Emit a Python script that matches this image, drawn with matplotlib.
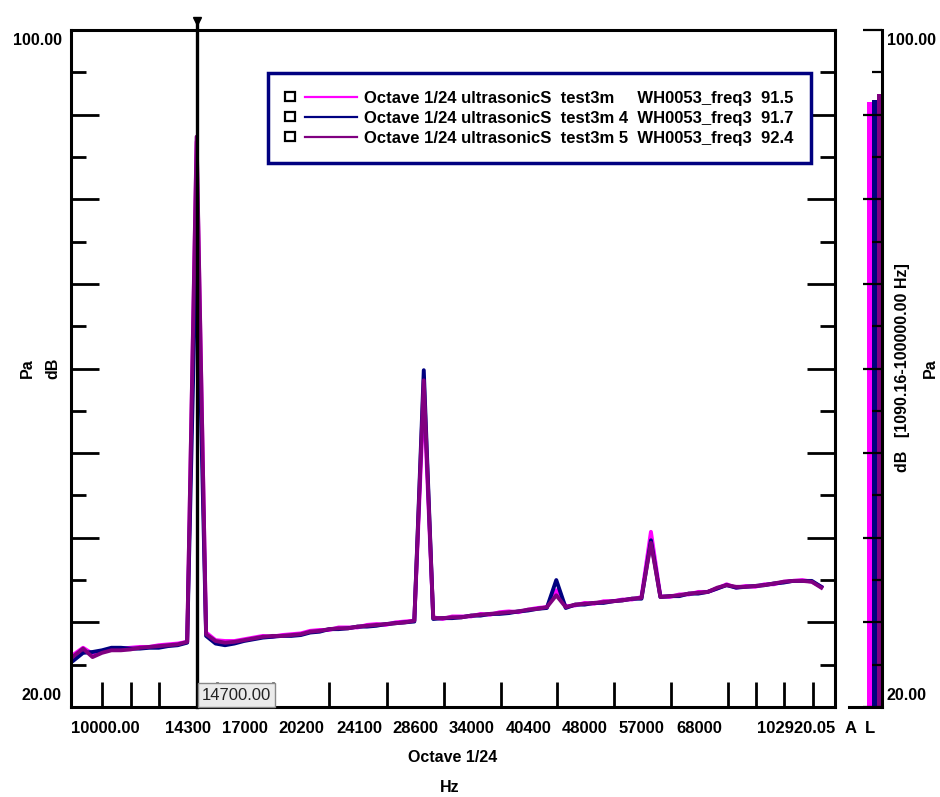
import numpy as np
import matplotlib.pyplot as plt
from matplotlib.ticker import FixedLocator, FixedFormatter, NullFormatter, MultipleLocator
from matplotlib.legend_handler import HandlerBase
from matplotlib.lines import Line2D
from matplotlib.patches import Rectangle

plt.rcParams['font.family'] = ['Liberation Sans', 'DejaVu Sans']
plt.rcParams['font.weight'] = 'bold'
plt.rcParams['font.size'] = 11.5

# 1/24 octave bands, n = 80 .. 159
band_index = np.arange(80, 160)
band_hz = 1000 * 2 ** (band_index / 24)

# dB per band
level_test3m = [
    26.2, 27.0, 26.3, 26.5, 26.8, 26.9, 27.0, 27.1, 27.1, 27.3,
    27.4, 27.5, 27.7, 86.8, 28.8, 27.9, 27.8, 27.8, 28.0, 28.2,
    28.4, 28.3, 28.5, 28.6, 28.7, 29.0, 29.1, 29.1, 29.4, 29.4,
    29.4, 29.7, 29.8, 29.7, 30.0, 30.1, 30.2, 56.9, 30.6, 30.4,
    30.7, 30.7, 30.7, 31.0, 30.9, 31.2, 31.3, 31.2, 31.5, 31.7,
    31.8, 33.8, 31.9, 32.0, 32.3, 32.2, 32.5, 32.5, 32.7, 32.7,
    33.0, 40.7, 33.1, 33.0, 33.3, 33.3, 33.6, 33.6, 34.0, 34.5,
    34.1, 34.3, 34.2, 34.5, 34.5, 34.8, 34.9, 35.0, 34.8, 34.2]
level_test3m_4 = [
    25.5, 26.4, 26.5, 26.7, 27.0, 27.0, 26.9, 26.9, 27.0, 27.0,
    27.2, 27.3, 27.6, 77.3, 28.4, 27.5, 27.3, 27.5, 27.8, 28.0,
    28.2, 28.3, 28.4, 28.4, 28.5, 28.8, 28.9, 29.2, 29.2, 29.3,
    29.5, 29.5, 29.6, 29.8, 29.9, 30.0, 30.1, 59.8, 30.4, 30.5,
    30.5, 30.6, 30.8, 30.8, 31.0, 31.0, 31.1, 31.3, 31.4, 31.6,
    31.7, 35.0, 31.7, 32.1, 32.1, 32.3, 32.3, 32.5, 32.6, 32.8,
    32.8, 39.7, 33.0, 33.1, 33.1, 33.4, 33.4, 33.6, 34.0, 34.4,
    34.1, 34.2, 34.3, 34.4, 34.6, 34.7, 34.9, 34.9, 34.9, 34.2]
level_test3m_5 = [
    26.0, 26.9, 25.9, 26.4, 26.7, 26.7, 26.8, 27.0, 27.1, 27.2,
    27.3, 27.4, 27.7, 87.4, 28.6, 27.8, 27.6, 27.7, 27.9, 28.1,
    28.3, 28.4, 28.4, 28.5, 28.6, 28.9, 29.0, 29.2, 29.3, 29.3,
    29.5, 29.6, 29.7, 29.8, 29.9, 30.0, 30.2, 58.6, 30.5, 30.5,
    30.6, 30.6, 30.8, 30.9, 31.0, 31.1, 31.2, 31.3, 31.5, 31.6,
    31.8, 33.2, 31.8, 32.1, 32.2, 32.3, 32.4, 32.5, 32.6, 32.8,
    32.9, 39.4, 33.0, 33.1, 33.2, 33.4, 33.5, 33.6, 34.1, 34.4,
    34.2, 34.2, 34.3, 34.4, 34.6, 34.8, 34.9, 34.9, 34.8, 34.1]

series_names = [
    'Octave 1/24 ultrasonicS  test3m     WH0053_freq3  91.5',
    'Octave 1/24 ultrasonicS  test3m 4  WH0053_freq3  91.7',
    'Octave 1/24 ultrasonicS  test3m 5  WH0053_freq3  92.4',
]
series_colors = ['#ff00ff', '#000080', '#800080']
overall_db = [91.5, 91.7, 92.4]

tick_hz = [11000, 12000, 13100, 14300, 15600, 17000, 18500, 20200, 22000,
           24100, 26200, 28600, 31200, 34000, 37100, 40400, 44100, 48000,
           52400, 57000, 62400, 68000, 74200, 80900, 88200, 96200]
label_hz = [10000, 14300, 17000, 20200, 24100, 28600, 34000, 40400,
            48000, 57000, 68000, 102920.05]
label_text = ['10000.00', '14300', '17000', '20200', '24100', '28600',
              '34000', '40400', '48000', '57000', '68000', '102920.05']
cursor_hz = 14700


class CheckLineHandler(HandlerBase):
    '''legend entry: little check box followed by the line sample'''
    def create_artists(self, legend, orig_handle, xdescent, ydescent,
                       width, height, fontsize, trans):
        x0 = -xdescent
        yc = (height - ydescent) / 2
        box = Rectangle((x0, yc - 3.4), 6.8, 6.8, fill=False,
                        edgecolor='black', linewidth=1.6, transform=trans)
        line = Line2D([x0 + 14.4, x0 + width], [yc, yc],
                      color=orig_handle.get_color(), linewidth=1.6,
                      transform=trans)
        return [box, line]


fig = plt.figure(figsize=(9.4, 7.97), dpi=100)
ax = fig.add_axes([71 / 940, 90 / 797, 764 / 940, 677 / 797])

lines = []
for levels, color in zip([level_test3m, level_test3m_4, level_test3m_5], series_colors):
    ln, = ax.plot(band_hz, levels, color=color, lw=2.8)
    lines.append(ln)

ax.set_xscale('log')
ax.set_xlim(10000, 102920.05)
ax.set_ylim(20, 100)

ax.xaxis.set_major_locator(FixedLocator(label_hz))
ax.xaxis.set_major_formatter(FixedFormatter(label_text))
ax.xaxis.set_minor_locator(FixedLocator(tick_hz))
ax.xaxis.set_minor_formatter(NullFormatter())
ax.tick_params(axis='x', which='major', length=0, pad=10, labelsize=12)
ax.tick_params(axis='x', which='minor', direction='in', length=18, width=2)
xl = ax.get_xticklabels()
xl[0].set_ha('left')
xl[-1].set_ha('right')

ax.yaxis.set_major_locator(MultipleLocator(10))
ax.yaxis.set_minor_locator(MultipleLocator(5))
ax.tick_params(axis='y', which='both', direction='in', left=True, right=True,
               labelleft=False, width=2)
ax.tick_params(axis='y', which='major', length=20)
ax.tick_params(axis='y', which='minor', length=11)
for s in ax.spines.values():
    s.set_linewidth(2.2)

ax.text(-0.012, 0.995, '100.00', transform=ax.transAxes, ha='right', va='top')
ax.text(-0.012, 0.006, '20.00', transform=ax.transAxes, ha='right', va='bottom')

# cursor
ax.plot([cursor_hz, cursor_hz], [20, 101.0], color='black', lw=2.4,
        clip_on=False, zorder=5)
ax.plot([cursor_hz], [101.1], marker='v', color='black', markersize=6,
        clip_on=False, zorder=5)
ax.annotate('14700.00', xy=(cursor_hz, 20), xytext=(3.2, 3.2),
            textcoords='offset points', ha='left', va='bottom', fontsize=12,
            fontweight='normal', color='#222222', zorder=6,
            bbox=dict(boxstyle='square,pad=0.25', fc='#ebebeb', ec='#888888', lw=1))

leg = ax.legend(lines, series_names, loc='upper left',
                bbox_to_anchor=((268 - 71) / 764, (707 - 73) / 677),
                borderaxespad=0, handler_map={Line2D: CheckLineHandler()},
                handlelength=4.3, handletextpad=0.42, borderpad=1.05,
                labelspacing=0.3, fancybox=False, framealpha=1,
                edgecolor='#000080', prop={'weight': 'bold', 'size': 12})
leg.get_frame().set_linewidth(2.5)

fig.text(27 / 940, 1 - 368 / 797, 'Pa', rotation=90, ha='center', va='center')
fig.text(53 / 940, 1 - 368 / 797, 'dB', rotation=90, ha='center', va='center')
fig.text(453 / 940, 1 - 757 / 797, 'Octave 1/24', ha='center', va='center')
fig.text(450 / 940, 1 - 787 / 797, 'Hz', ha='center', va='center')

# overall level bars
ax2 = fig.add_axes([849 / 940, 90 / 797, 33 / 940, 677 / 797])
ax2.bar([0, 1, 2], overall_db, width=1, color=series_colors)
ax2.set_xlim(-4.0, 2.55)
ax2.set_ylim(20, 100)
ax2.spines['left'].set_visible(False)
ax2.spines['top'].set_visible(False)
ax2.spines['right'].set_linewidth(2.2)
ax2.spines['bottom'].set_linewidth(2.2)
ax2.yaxis.tick_right()
ax2.yaxis.set_major_locator(MultipleLocator(10))
ax2.yaxis.set_minor_locator(MultipleLocator(5))
ax2.tick_params(axis='y', which='both', direction='in', labelright=False, width=1.6)
ax2.tick_params(axis='y', which='major', length=14)
ax2.tick_params(axis='y', which='minor', length=7)
ax2.set_xticks([-3.6, 0.2], ['A', 'L'])
ax2.tick_params(axis='x', length=0, pad=10, labelsize=12)
ax2.text(1.15, 0.995, '100.00', transform=ax2.transAxes, ha='left', va='top')
ax2.text(1.15, 0.006, '20.00', transform=ax2.transAxes, ha='left', va='bottom')

fig.text(903 / 940, 1 - 368 / 797, 'dB   [1090.16-100000.00 Hz]', rotation=90,
         ha='center', va='center')
fig.text(930 / 940, 1 - 368 / 797, 'Pa', rotation=90, ha='center', va='center')

fig.savefig('out.png', dpi=100, facecolor='white')
